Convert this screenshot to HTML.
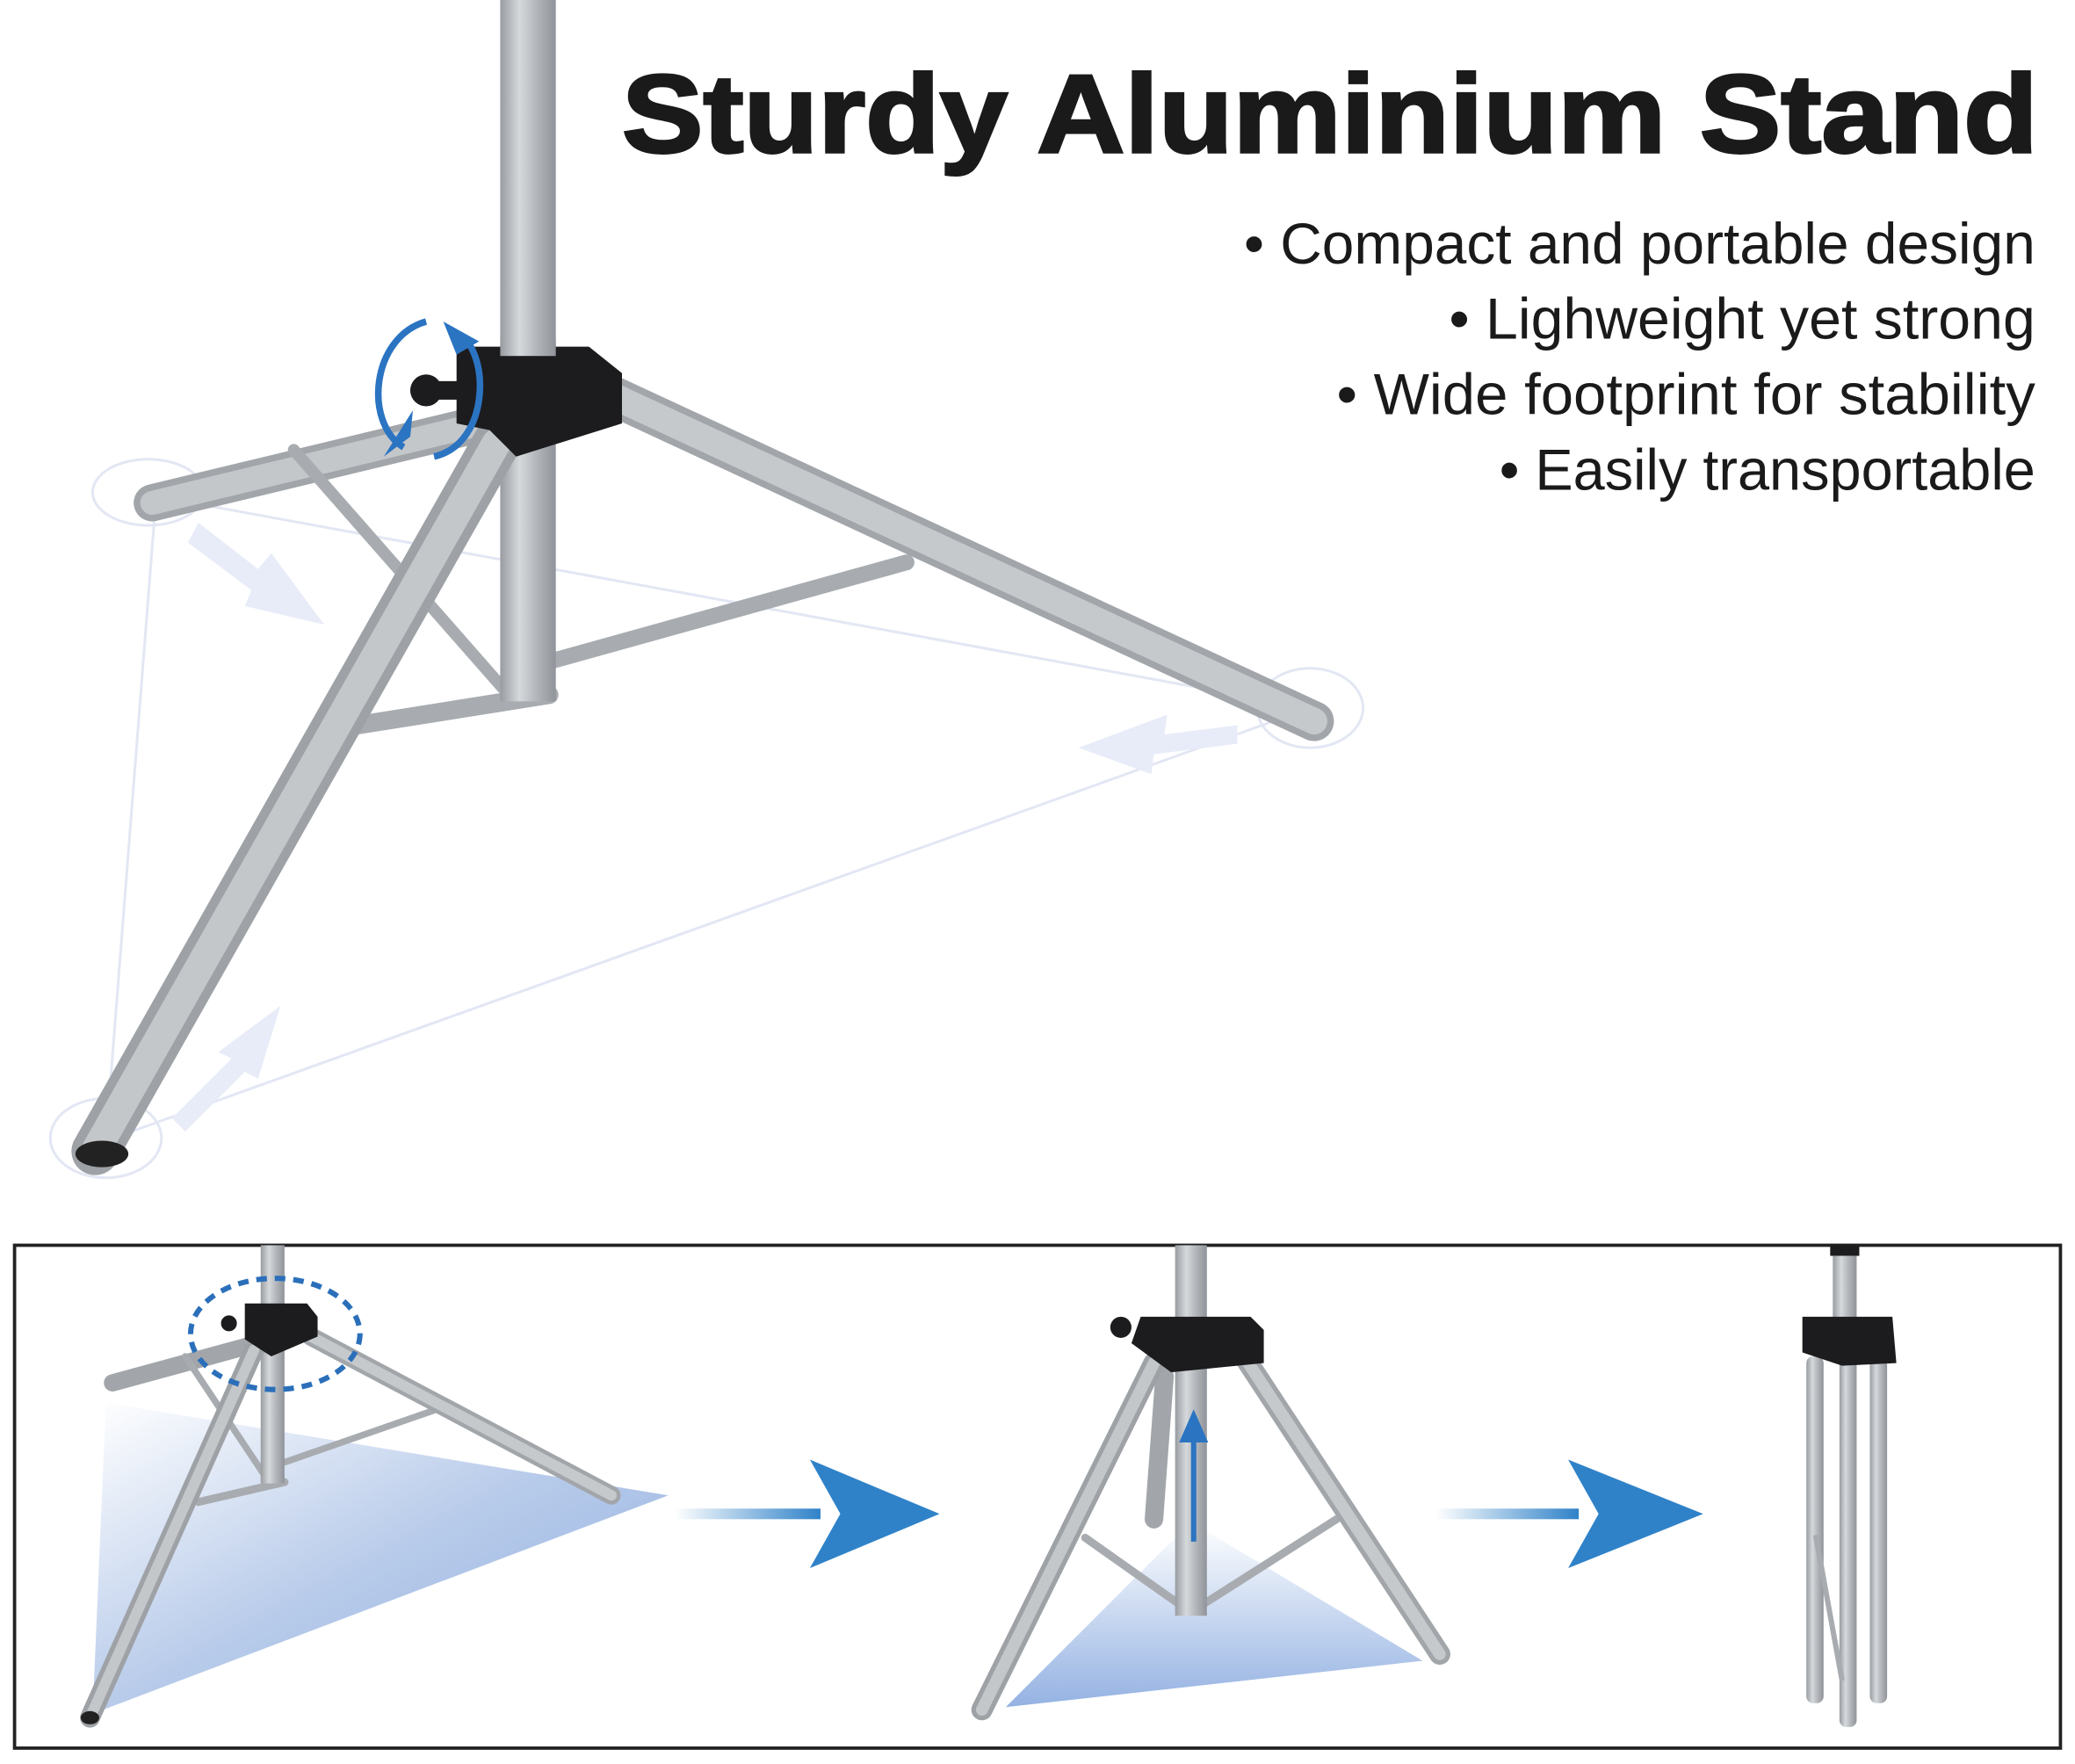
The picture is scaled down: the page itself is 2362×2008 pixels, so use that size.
<!DOCTYPE html>
<html><head><meta charset="utf-8"><style>
html,body{margin:0;padding:0;background:#fff;}
svg{display:block;}
</style></head><body>
<svg width="2362" height="2008" viewBox="0 0 1568 1333" preserveAspectRatio="none" xmlns="http://www.w3.org/2000/svg">
<defs>
<linearGradient id="pole" x1="0" x2="1" y1="0" y2="0">
<stop offset="0" stop-color="#989ca0"/><stop offset="0.35" stop-color="#d6d9dc"/><stop offset="0.6" stop-color="#b8bcc0"/><stop offset="1" stop-color="#90949a"/>
</linearGradient>
<linearGradient id="shad" x1="0" x2="1" y1="0" y2="1">
<stop offset="0" stop-color="#ffffff"/><stop offset="0.5" stop-color="#b8cbea"/><stop offset="1" stop-color="#8eaee0"/>
</linearGradient>
<linearGradient id="shad2" x1="0" x2="0" y1="0" y2="1">
<stop offset="0" stop-color="#ffffff"/><stop offset="1" stop-color="#94b2e2"/>
</linearGradient>
<linearGradient id="bar" x1="0" x2="1">
<stop offset="0" stop-color="#ffffff"/><stop offset="1" stop-color="#2f82c8"/>
</linearGradient>
</defs>

<g stroke="#e3e7f4" stroke-width="2" fill="none">
<polyline points="118,375 990,535 80,862 118,375"/>
<ellipse cx="112" cy="372" rx="42" ry="25"/>
<ellipse cx="990" cy="535" rx="40" ry="30"/>
<ellipse cx="80" cy="860" rx="42" ry="30"/>
</g>
<g fill="#e8ecf8" stroke="none">
<polygon points="150,395 195,430 205,418 245,472 185,458 190,446 142,410"/>
<polygon points="935,548 880,555 882,540 815,565 870,585 872,570 935,562"/>
<polygon points="130,845 175,800 165,795 212,760 195,815 185,810 140,855"/>
</g>

<g stroke-linecap="round">
<line x1="385" y1="315" x2="115" y2="380" stroke="#a2a6aa" stroke-width="28"/>
<line x1="385" y1="315" x2="115" y2="380" stroke="#c4c7ca" stroke-width="18"/>
<line x1="222" y1="340" x2="380" y2="520" stroke="#a8acb0" stroke-width="9"/>
<line x1="415" y1="500" x2="685" y2="425" stroke="#a8acb0" stroke-width="12"/>
<line x1="270" y1="548" x2="415" y2="525" stroke="#a8acb0" stroke-width="14"/>
</g>
<rect x="378" y="0" width="42" height="530" fill="url(#pole)"/>
<g stroke-linecap="round">
<line x1="465" y1="300" x2="993" y2="545" stroke="#a2a6aa" stroke-width="30"/>
<line x1="465" y1="300" x2="993" y2="545" stroke="#c6c9cc" stroke-width="20"/>
<line x1="375" y1="335" x2="72" y2="870" stroke="#9ea2a6" stroke-width="36"/>
<line x1="375" y1="335" x2="72" y2="870" stroke="#c4c7ca" stroke-width="22"/>
</g>
<ellipse cx="77" cy="872" rx="20" ry="10" fill="#222"/>
<path d="M345,262 L445,262 L470,282 L470,320 L390,345 L370,325 L345,320 Z" fill="#1c1c1e"/>
<rect x="378" y="255" width="42" height="14" fill="url(#pole)"/>
<circle cx="322" cy="295" r="12" fill="#1c1c1e"/>
<rect x="330" y="288" width="20" height="14" fill="#1c1c1e"/>
<path d="M322,243 C280,255 275,320 305,338" stroke="#2b74c2" stroke-width="5" fill="none"/>
<polygon points="290,345 310,330 312,310" fill="#2b74c2"/>
<path d="M328,345 C372,335 370,262 345,252" stroke="#2b74c2" stroke-width="5" fill="none"/>
<polygon points="335,243 362,258 345,268" fill="#2b74c2"/>

<text x="470" y="115" font-family="Liberation Sans, sans-serif" font-weight="bold" font-size="84" fill="#1a1a1a" stroke="#1a1a1a" stroke-width="2" textLength="1070" lengthAdjust="spacingAndGlyphs">Sturdy Aluminium Stand</text>
<g font-family="Liberation Sans, sans-serif" font-size="44" fill="#1a1a1a" text-anchor="end">
<text x="1538" y="199" textLength="598" lengthAdjust="spacingAndGlyphs">• Compact and portable design</text>
<text x="1538" y="256" textLength="443" lengthAdjust="spacingAndGlyphs">• Lighweight yet strong</text>
<text x="1538" y="313" textLength="528" lengthAdjust="spacingAndGlyphs">• Wide footprint for stability</text>
<text x="1538" y="370" textLength="405" lengthAdjust="spacingAndGlyphs">• Easily transportable</text>
</g>

<rect x="11" y="941" width="1546" height="380" fill="none" stroke="#222" stroke-width="2.5"/>

<polygon points="80,1060 505,1130 70,1295" fill="url(#shad)"/>
<g stroke-linecap="round">
<line x1="195" y1="1015" x2="85" y2="1045" stroke="#a2a6aa" stroke-width="13"/>
<line x1="140" y1="1025" x2="200" y2="1115" stroke="#a8acb0" stroke-width="5"/>
<line x1="215" y1="1105" x2="330" y2="1065" stroke="#a8acb0" stroke-width="5"/>
<line x1="150" y1="1135" x2="215" y2="1120" stroke="#a8acb0" stroke-width="6"/>
</g>
<rect x="197" y="941" width="18" height="180" fill="url(#pole)"/>
<g stroke-linecap="round">
<line x1="235" y1="1010" x2="462" y2="1130" stroke="#a2a6aa" stroke-width="14"/>
<line x1="235" y1="1010" x2="462" y2="1130" stroke="#c6c9cc" stroke-width="8"/>
<line x1="192" y1="1020" x2="68" y2="1298" stroke="#9ea2a6" stroke-width="15"/>
<line x1="192" y1="1020" x2="68" y2="1298" stroke="#c4c7ca" stroke-width="8"/>
</g>
<ellipse cx="68" cy="1298" rx="7" ry="5" fill="#222"/>
<path d="M185,985 L232,985 L240,995 L240,1010 L205,1025 L185,1012 Z" fill="#1c1c1e"/>
<circle cx="173" cy="1000" r="6" fill="#1c1c1e"/>
<ellipse cx="208" cy="1008" rx="64" ry="42" fill="none" stroke="#2b6fba" stroke-width="4" stroke-dasharray="8,6"/>

<rect x="510" y="1140" width="110" height="8" fill="url(#bar)"/>
<polygon points="612,1103 710,1144 612,1185 635,1144" fill="#2f82c8"/>

<polygon points="760,1290 1075,1255 900,1150" fill="url(#shad2)"/>
<g stroke-linecap="round">
<line x1="880" y1="1040" x2="872" y2="1148" stroke="#a2a6aa" stroke-width="14"/>
<line x1="820" y1="1162" x2="895" y2="1215" stroke="#a8acb0" stroke-width="6"/>
<line x1="905" y1="1215" x2="1010" y2="1148" stroke="#a8acb0" stroke-width="6"/>
</g>
<rect x="888" y="941" width="24" height="280" fill="url(#pole)"/>
<g stroke-linecap="round">
<line x1="940" y1="1025" x2="1088" y2="1250" stroke="#a2a6aa" stroke-width="16"/>
<line x1="940" y1="1025" x2="1088" y2="1250" stroke="#c6c9cc" stroke-width="9"/>
<line x1="872" y1="1030" x2="742" y2="1292" stroke="#9ea2a6" stroke-width="16"/>
<line x1="872" y1="1030" x2="742" y2="1292" stroke="#c4c7ca" stroke-width="9"/>
</g>
<path d="M862,995 L945,995 L955,1005 L955,1030 L885,1037 L855,1015 Z" fill="#1c1c1e"/>
<circle cx="847" cy="1003" r="8" fill="#1c1c1e"/>
<line x1="902" y1="1165" x2="902" y2="1085" stroke="#2b74c2" stroke-width="4"/>
<polygon points="891,1090 913,1090 902,1065" fill="#2b74c2"/>

<rect x="1085" y="1140" width="108" height="8" fill="url(#bar)"/>
<polygon points="1185,1103 1287,1144 1185,1185 1208,1144" fill="#2f82c8"/>

<rect x="1383" y="941" width="22" height="8" fill="#1c1c1e"/>
<rect x="1385" y="949" width="18" height="50" fill="url(#pole)"/>
<rect x="1365" y="1025" width="13" height="262" rx="5" fill="url(#pole)"/>
<rect x="1390" y="1025" width="13" height="280" rx="5" fill="url(#pole)"/>
<rect x="1413" y="1025" width="13" height="262" rx="5" fill="url(#pole)"/>
<line x1="1372" y1="1160" x2="1392" y2="1270" stroke="#a8acb0" stroke-width="4"/>
<path d="M1362,995 L1430,995 L1433,1030 L1392,1032 L1362,1022 Z" fill="#1c1c1e"/>
</svg>
</body></html>
